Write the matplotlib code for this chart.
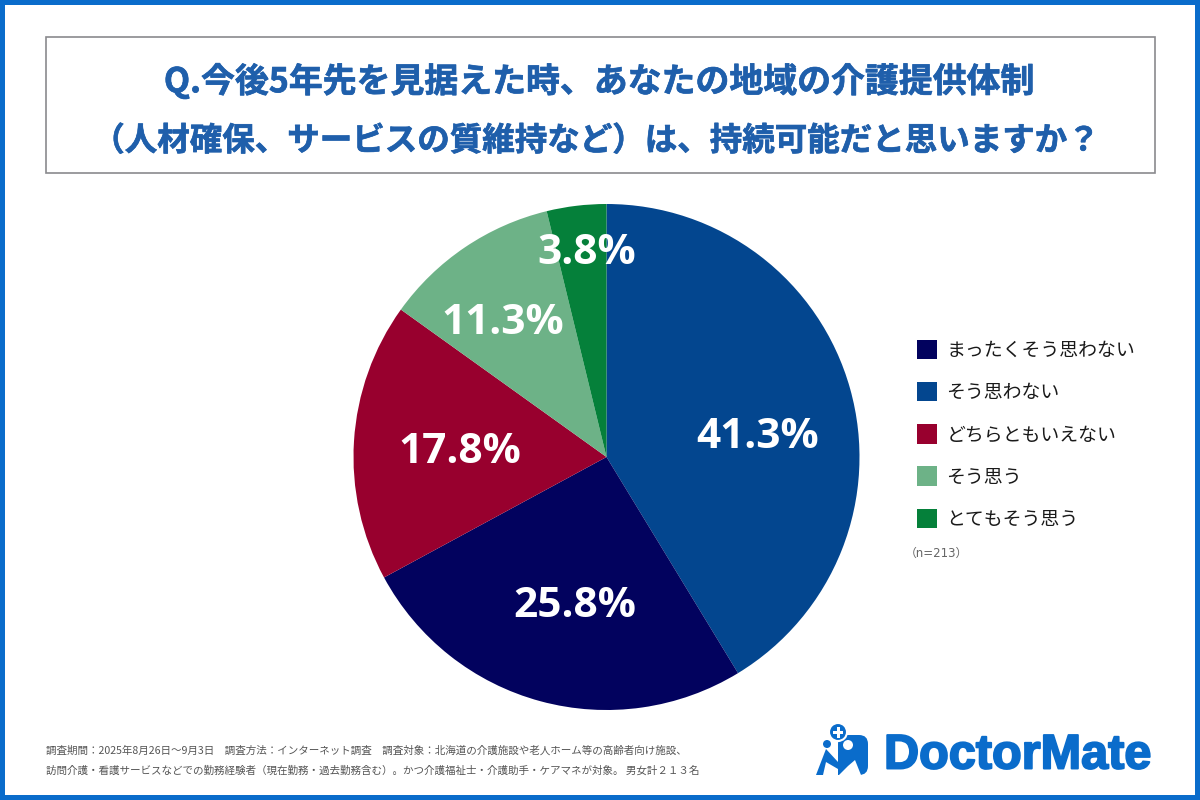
import matplotlib
matplotlib.use("Agg")
import matplotlib.pyplot as plt
import matplotlib.patheffects as pe
import numpy as np
from matplotlib.patches import Rectangle, Circle, Polygon, FancyBboxPatch

plt.rcParams['font.family'] = ['Noto Sans CJK JP', 'DejaVu Sans']

# Data
pie_labels = ["そう思わない", "まったくそう思わない", "どちらともいえない", "そう思う", "とてもそう思う"]
pie_values = [41.3, 25.8, 17.8, 11.3, 3.8]
pie_colors = ["#03468F", "#02025E", "#98002E", "#6DB287", "#05803A"]
legend_order = ["まったくそう思わない", "そう思わない", "どちらともいえない", "そう思う", "とてもそう思う"]
# label placement relative to each wedge's middle
label_radius = [0.605, 0.583, 0.58, 0.685, 0.826]
label_turn = [6.3, -2.8, 0.3, -2.7, 1.4]

title_lines = ["Q.今後5年先を見据えた時、あなたの地域の介護提供体制",
               "（人材確保、サービスの質維持など）は、持続可能だと思いますか？"]
note_n = "（n=213）"
foot_lines = ["調査期間：2025年8月26日～9月3日　調査方法：インターネット調査　調査対象：北海道の介護施設や老人ホーム等の高齢者向け施設、",
              "訪問介護・看護サービスなどでの勤務経験者（現在勤務・過去勤務含む）。かつ介護福祉士・介護助手・ケアマネが対象。 男女計２１３名"]
brand = "DoctorMate"

W, H = 1200, 800
BLUE = "#0A6CCB"
fig = plt.figure(figsize=(12, 8), dpi=100, facecolor="white")

bg = fig.add_axes([0, 0, 1, 1], zorder=0)
bg.set_xlim(0, W); bg.set_ylim(H, 0); bg.axis("off")
for r in [(0, 0, W, 5), (0, 795, W, 5), (0, 0, 5, H), (1195, 0, 5, H)]:
    bg.add_patch(Rectangle((r[0], r[1]), r[2], r[3], fc=BLUE, ec="none"))
bg.add_patch(Rectangle((45.5, 37), 1109.5, 136, fc="white", ec="#8A8A8E", lw=1.2))

title_fmt = [(599, 81, 24.4), (596, 141, 23.4)]
for line, (x, y, fs) in zip(title_lines, title_fmt):
    bg.text(x, y, line, ha="center", va="center", fontsize=fs, fontweight="bold", color="#1F5FAB",
            path_effects=[pe.withStroke(linewidth=0.5, foreground="#1F5FAB")])

# Pie
cx, cy, R = 606.5, 457, 253
ax = fig.add_axes([(cx - R) / W, 1 - (cy + R) / H, 2 * R / W, 2 * R / H], zorder=1)
wedges, _ = ax.pie(pie_values, colors=pie_colors, startangle=90, counterclock=False, radius=1,
                   wedgeprops=dict(linewidth=0))
ax.set_xlim(-1, 1); ax.set_ylim(-1, 1)
for w, v, r, t in zip(wedges, pie_values, label_radius, label_turn):
    a = np.deg2rad((w.theta1 + w.theta2) / 2 - t)
    ax.text(r * np.cos(a), r * np.sin(a), f"{v:.1f}%", ha="center", va="center_baseline",
            fontsize=30.5, fontweight="bold", family="Open Sans", color="white", clip_on=False)

# Legend
by_label = dict(zip(pie_labels, pie_colors))
leg_y = [349.5, 391.5, 434, 476, 518.5]
for name, y in zip(legend_order, leg_y):
    bg.add_patch(Rectangle((917, y - 10), 19.5, 19.5, fc=by_label[name], ec="none"))
    bg.text(946.5, y + 1, name, ha="left", va="center", fontsize=13.6, color="#1A1A1A")
bg.text(905, 553, note_n, ha="left", va="center", fontsize=8.5,
        family=["DejaVu Sans", "Noto Sans CJK JP"], color="#666666")

# Footer
for line, y in zip(foot_lines, [751, 771]):
    bg.text(46, y, line, ha="left", va="center", fontsize=7.6, color="#555555")

# Logo
bg.text(884, 756, brand, ha="left", va="center", fontsize=35, fontweight="bold",
        family="Liberation Sans", color=BLUE,
        path_effects=[pe.withStroke(linewidth=1.4, foreground=BLUE)])
bg.add_patch(FancyBboxPatch((838, 735), 30, 40, boxstyle="round,pad=0,rounding_size=9", fc=BLUE, ec="none"))
bg.add_patch(Polygon([[816, 775], [826, 749], [838, 762], [846, 757], [846, 775], [838, 775], [838, 769], [826, 762], [823, 775]], fc=BLUE, ec="none"))
bg.add_patch(Circle((848, 745), 5, fc="white", ec="none"))
bg.add_patch(Polygon([[839, 775], [848, 766], [855, 760], [861, 775]], fc="white", ec="none"))
bg.add_patch(Circle((827, 744), 4, fc=BLUE, ec="none"))
bg.add_patch(Circle((838, 732), 9, fc=BLUE, ec="white", lw=1.5))
bg.add_patch(Rectangle((836.5, 726.5), 3, 11, fc="white", ec="none"))
bg.add_patch(Rectangle((833, 730.5), 10, 3, fc="white", ec="none"))

fig.savefig("out.png", dpi=100, facecolor="white")
